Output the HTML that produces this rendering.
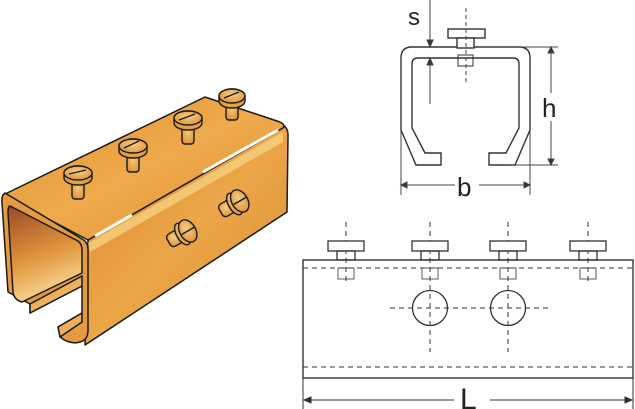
<!DOCTYPE html>
<html><head><meta charset="utf-8"><style>
html,body{margin:0;padding:0;background:#fff;width:635px;height:409px;overflow:hidden}
svg{display:block}
text{font-family:"Liberation Sans",sans-serif;fill:#222}
</style></head><body>
<svg width="635" height="409" viewBox="0 0 635 409" xmlns="http://www.w3.org/2000/svg">
<defs>
<linearGradient id="gt" x1="0" y1="0" x2="1" y2="1"><stop offset="0" stop-color="#e0902e"/><stop offset="0.5" stop-color="#eeaa4c"/><stop offset="1" stop-color="#de9234"/></linearGradient>
<linearGradient id="gs" x1="0" y1="0" x2="1" y2="1"><stop offset="0" stop-color="#dc8a2c"/><stop offset="0.5" stop-color="#eba648"/><stop offset="1" stop-color="#d88c30"/></linearGradient>
<linearGradient id="gi" x1="0" y1="0" x2="0.3" y2="1"><stop offset="0" stop-color="#9a4a22"/><stop offset="0.6" stop-color="#e0963e"/><stop offset="1" stop-color="#f8d590"/></linearGradient>
<radialGradient id="gh" cx="0.5" cy="0.4" r="0.6"><stop offset="0" stop-color="#f6cf84"/><stop offset="1" stop-color="#e0963a"/></radialGradient>
</defs>
<g stroke="#1a1a1a" stroke-width="1.5" stroke-linejoin="round">
<path d="M88,240 L283,125 Q288,128 288,135 L287,212 L85,345 Z" fill="url(#gs)"/>
<path d="M3,195 L205,97 L280,122 Q286,125 283,128 L88,240 Z" fill="url(#gt)"/>
<path d="M5,193 Q1,196 2,203 L8,292 L30,304 L30,313 L82,286 L82,313 L58,327 L60,337 Q70,345 80,342 Q88,340 88,330 L88,250 Q88,242 82,239 Z" fill="#e49a3e"/>
<path d="M10,206 L78,241 Q82,244 82,250 L82,273 L22,302 Q14,300 13,292 L8,212 Q8,206 10,206 Z" fill="url(#gi)"/>
<path d="M30,304 L82,276 L82,286 L30,313 Z" fill="#eeb05a"/>
<path d="M58,327 L82,313 L82,322 L60,337 Z" fill="#eeb05a"/>
</g>
<path d="M88,243 L283,132 L283,142 L90,252 Z" fill="#f5cf80" opacity="0.8"/>
<line x1="95" y1="236" x2="132" y2="215" stroke="#fff" stroke-width="3"/>
<line x1="203" y1="172" x2="278" y2="130" stroke="#fff" stroke-width="3"/>
<g stroke="#1a1a1a" stroke-width="1.4" fill="url(#gh)">
<g transform="translate(78,175)"><rect x="-6" y="2" width="12" height="22" rx="3"/><path d="M-14,-2 A14,7 0 0 1 14,-2 L14,3 A14,7 0 0 1 -14,3 Z"/><ellipse cx="0" cy="-2" rx="14" ry="7"/><line x1="-9" y1="-1" x2="8" y2="-5"/></g>
<g transform="translate(133,148)"><rect x="-6" y="2" width="12" height="22" rx="3"/><path d="M-14,-2 A14,7 0 0 1 14,-2 L14,3 A14,7 0 0 1 -14,3 Z"/><ellipse cx="0" cy="-2" rx="14" ry="7"/><line x1="-9" y1="0" x2="6" y2="-7"/></g>
<g transform="translate(188,120)"><rect x="-6" y="2" width="12" height="22" rx="3"/><path d="M-14,-2 A14,7 0 0 1 14,-2 L14,3 A14,7 0 0 1 -14,3 Z"/><ellipse cx="0" cy="-2" rx="14" ry="7"/><line x1="-9" y1="0" x2="7" y2="-6"/></g>
<g transform="translate(232,98)"><rect x="-6" y="2" width="12" height="20" rx="3"/><path d="M-13,-2 A13,7 0 0 1 13,-2 L13,3 A13,7 0 0 1 -13,3 Z"/><ellipse cx="0" cy="-2" rx="13" ry="7"/><line x1="-8" y1="0" x2="7" y2="-6"/></g>
<g transform="translate(186,232) rotate(-30)"><rect x="-20" y="-7" width="14" height="14" rx="4"/><ellipse cx="-4" cy="0" rx="6" ry="12"/><ellipse cx="2" cy="0" rx="8" ry="12"/><line x1="-5" y1="0" x2="10" y2="0"/></g>
<g transform="translate(238,202) rotate(-30)"><rect x="-20" y="-7" width="14" height="14" rx="4"/><ellipse cx="-4" cy="0" rx="6" ry="12"/><ellipse cx="2" cy="0" rx="8" ry="12"/><line x1="-5" y1="0" x2="10" y2="0"/></g>
</g>

<g fill="none" stroke="#333" stroke-width="1.4">
<path d="M416,165 L401,130 L401,58 Q401,47 412,47 L519,47 Q530,47 530,58 L530,130 L515,165 L489,165 L489,153 L506,153 L519,128 L519,64 Q519,58 513,58 L418,58 Q412,58 412,64 L412,128 L425,153 L441,153 L441,165 Z"/>
<rect x="448" y="29" width="37" height="9" fill="#fff"/>
<rect x="457" y="38" width="17" height="10" fill="#fff"/>
<rect x="458" y="55" width="15" height="11" stroke-width="1"/>
</g>
<g stroke="#444" stroke-width="1" fill="none">
<line x1="466" y1="8" x2="466" y2="82" stroke-dasharray="4,3"/>
<line x1="430" y1="0" x2="430" y2="42"/><path d="M427,40 L430,47 L433,40 Z" fill="#333"/>
<line x1="430" y1="64" x2="430" y2="104"/><path d="M427,65 L430,58 L433,65 Z" fill="#333"/>
<line x1="478" y1="47" x2="558" y2="47"/><line x1="510" y1="165" x2="558" y2="165"/>
<line x1="551" y1="52" x2="551" y2="160"/><path d="M548,53 L551,47 L554,53 Z M548,159 L551,165 L554,159 Z" fill="#333"/>
<line x1="401" y1="130" x2="401" y2="195"/><line x1="530" y1="130" x2="530" y2="195"/>
<line x1="407" y1="185" x2="524" y2="185"/><path d="M407,182 L401,185 L407,188 Z M524,182 L530,185 L524,188 Z" fill="#333"/>
</g>
<text x="408" y="25" font-size="24">s</text>
<rect x="540" y="93" width="22" height="28" fill="#fff"/>
<text x="542" y="117" font-size="26">h</text>
<rect x="455" y="172" width="24" height="28" fill="#fff"/>
<text x="457" y="196" font-size="26">b</text>

<g stroke="#333" fill="none">
<rect x="303" y="260" width="330" height="118" stroke-width="1.4"/>
<g stroke-dasharray="5,4" stroke-width="1">
<line x1="303" y1="268" x2="633" y2="268"/><line x1="303" y1="367" x2="633" y2="367"/>
<line x1="390" y1="308" x2="552" y2="308"/>
<line x1="346" y1="222" x2="346" y2="285"/><line x1="430" y1="222" x2="430" y2="352"/>
<line x1="508" y1="222" x2="508" y2="352"/><line x1="588" y1="222" x2="588" y2="285"/>
</g>
<g stroke-width="1.3">
<rect x="328" y="241" width="36" height="10" fill="#fff"/><rect x="337" y="251" width="18" height="9"/><rect x="338" y="268" width="16" height="11" stroke-width="0.8"/>
<rect x="412" y="241" width="36" height="10" fill="#fff"/><rect x="421" y="251" width="18" height="9"/><rect x="422" y="268" width="16" height="11" stroke-width="0.8"/>
<rect x="490" y="241" width="36" height="10" fill="#fff"/><rect x="499" y="251" width="18" height="9"/><rect x="500" y="268" width="16" height="11" stroke-width="0.8"/>
<rect x="570" y="241" width="36" height="10" fill="#fff"/><rect x="579" y="251" width="18" height="9"/><rect x="580" y="268" width="16" height="11" stroke-width="0.8"/>
<circle cx="430" cy="308" r="17.5"/><circle cx="508" cy="308" r="17.5"/>
</g>
<g stroke-width="1">
<line x1="303" y1="378" x2="303" y2="409"/><line x1="633" y1="378" x2="633" y2="409"/>
<line x1="310" y1="400" x2="454" y2="400"/><line x1="490" y1="400" x2="626" y2="400"/>
<path d="M311,397 L304,400 L311,403 Z M625,397 L632,400 L625,403 Z" fill="#333"/>
</g>
</g>
<text x="460" y="409" font-size="30">L</text>
</svg>
</body></html>
